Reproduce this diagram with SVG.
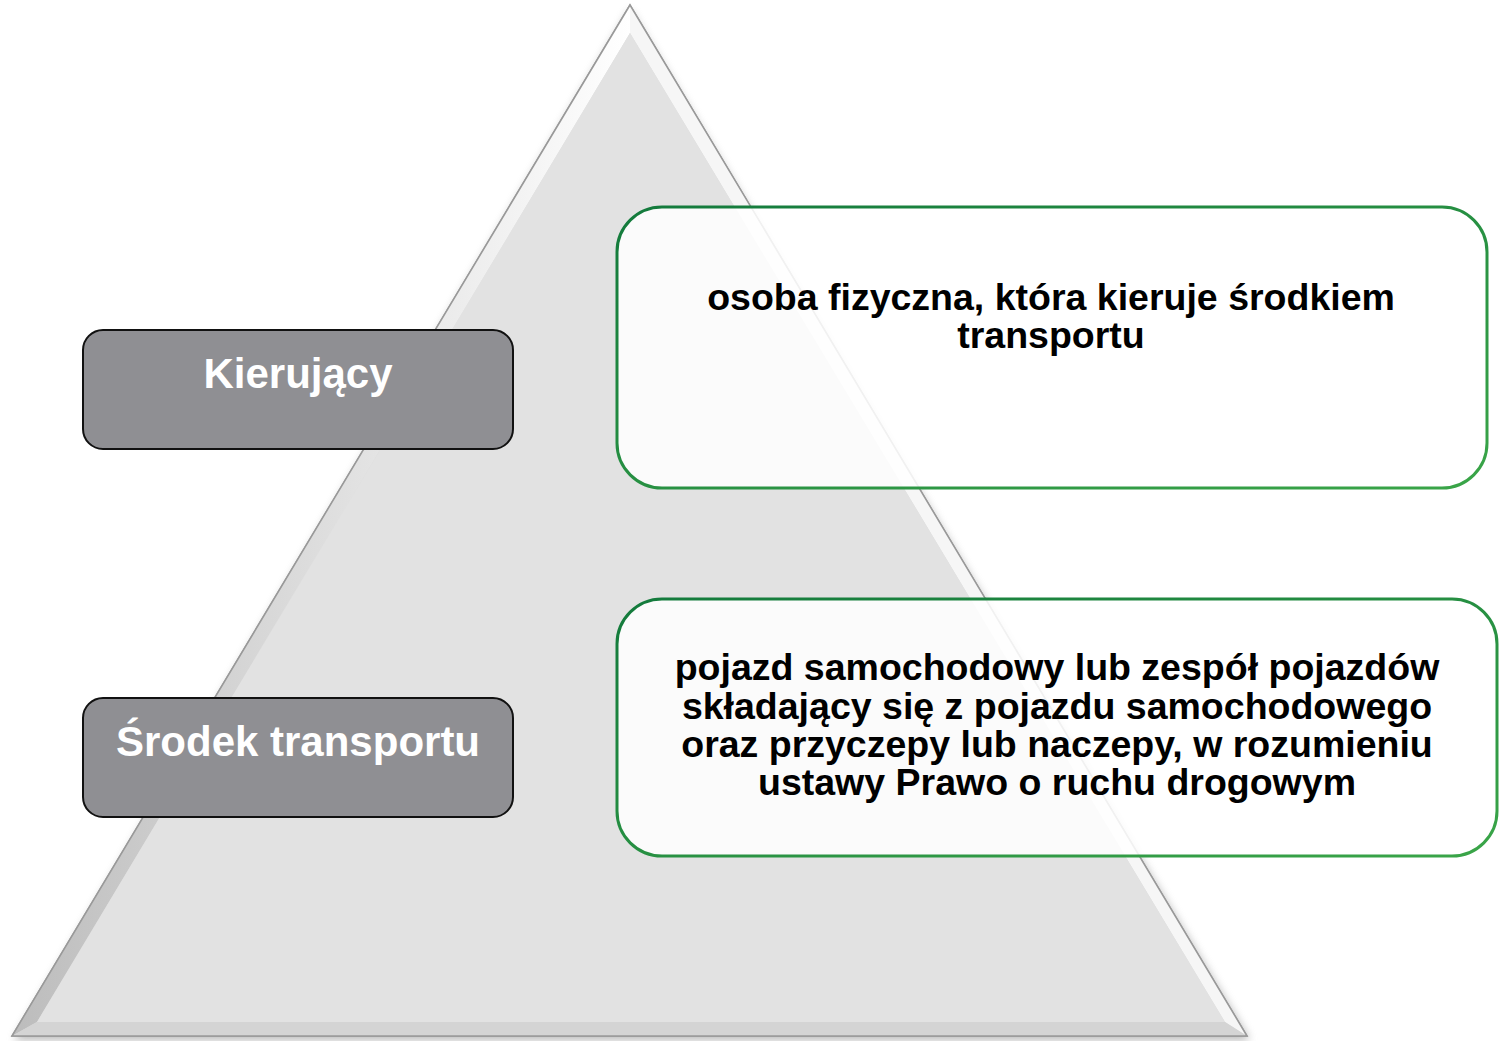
<svg xmlns="http://www.w3.org/2000/svg" width="1501" height="1041" viewBox="0 0 1501 1041">
<style>
.lbl{font-family:"Liberation Sans",Arial,sans-serif;font-weight:bold;font-size:42px;fill:#ffffff;text-anchor:middle}
.desc{font-family:"Liberation Sans",Arial,sans-serif;font-weight:bold;font-size:37.5px;fill:#000000;text-anchor:middle}
.gbox{fill:#8f8f93;stroke:#111111;stroke-width:2}
.wbox{fill:#ffffff;fill-opacity:0.86;stroke:url(#grn);stroke-width:3}
</style>
<defs>
<filter id="sh" x="-10%" y="-10%" width="120%" height="120%"><feGaussianBlur stdDeviation="4"/></filter>
<linearGradient id="lf" x1="0" y1="0" x2="1" y2="0"><stop offset="0" stop-color="#bcbcbc"/><stop offset="1" stop-color="#ffffff"/></linearGradient>
<linearGradient id="grn" x1="0" y1="0" x2="1" y2="1"><stop offset="0" stop-color="#137a3c"/><stop offset="1" stop-color="#3aa548"/></linearGradient>
</defs>
<g id="pyramid">
<polygon points="630,10 14,1040 1250,1040" fill="#8a8a8a" opacity="0.6" filter="url(#sh)"/>
<polygon points="630,5 12,1036 1247,1036" fill="#dcdcdc" stroke="#9a9a9a" stroke-width="1.5"/>
<polygon points="630,5 12,1036 37,1022 630,33" fill="url(#lf)"/>
<polygon points="630,5 1247,1036 1225,1022 630,33" fill="#f6f6f6"/>
<polygon points="12,1036 1247,1036 1225,1022 37,1022" fill="#d4d4d4"/>
<polygon points="630,33 37,1022 1225,1022" fill="#e2e2e2"/>
<polygon points="630,5 12,1036 1247,1036" fill="none" stroke="#999999" stroke-width="1.5"/>
</g>
<g id="node-kierujacy">
<rect class="gbox" x="83" y="330" width="430" height="119" rx="20"/>
<text class="lbl" x="298" y="388">Kierujący</text>
</g>
<g id="node-srodek">
<rect class="gbox" x="83" y="698" width="430" height="119" rx="20"/>
<text class="lbl" x="298" y="756">Środek transportu</text>
</g>
<g id="node-def1">
<rect class="wbox" x="617" y="207" width="870" height="281" rx="45"/>
<text class="desc" x="1051" y="310">osoba fizyczna, która kieruje środkiem</text>
<text class="desc" x="1051" y="348">transportu</text>
</g>
<g id="node-def2">
<rect class="wbox" x="617" y="599" width="880" height="257" rx="45"/>
<text class="desc" x="1057" y="680">pojazd samochodowy lub zespół pojazdów</text>
<text class="desc" x="1057" y="719">składający się z pojazdu samochodowego</text>
<text class="desc" x="1057" y="757">oraz przyczepy lub naczepy, w rozumieniu</text>
<text class="desc" x="1057" y="795">ustawy Prawo o ruchu drogowym</text>
</g>
<g id="connectors"></g>
</svg>
